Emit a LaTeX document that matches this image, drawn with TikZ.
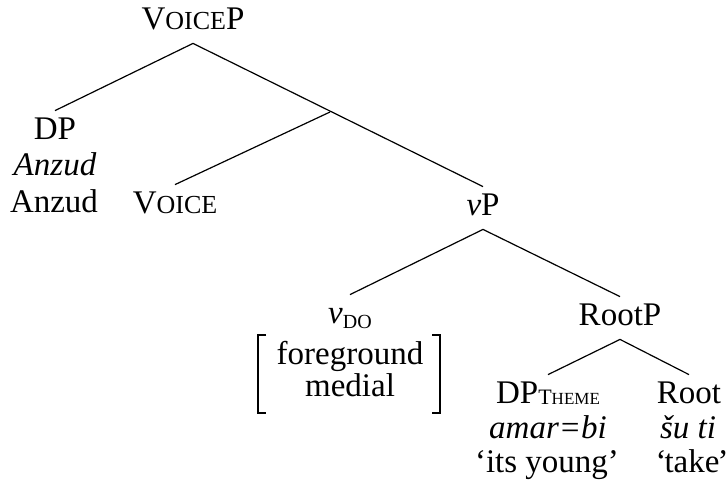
\documentclass[tikz,border=0pt]{standalone}
\usepackage{fontspec}
\setmainfont{Liberation Serif}
\newcommand\fakesc[1]{{\fontsize{13}{13}\selectfont #1}}
\begin{document}
\begin{tikzpicture}[x=0.5pt,y=-0.5pt,
  lbl/.style={inner sep=0pt,anchor=base,text height=14pt,text depth=7pt,font=\fontsize{16.5}{18}\selectfont},
  txt/.style={inner sep=0pt,anchor=base,font=\fontsize{16.5}{18}\selectfont},
  branch/.style={line width=0.6pt},
  brack/.style={line width=0.8pt}]
\useasboundingbox (0,0) rectangle (726,489);
% nodes
\node[lbl] (voicep) at (193,29) {V\fakesc{OICE}P};
\node[lbl] (dp) at (55,139) {DP};
\node[txt] (dpit) at (55,175) {\itshape Anzud};
\node[txt] (dpgl) at (54,212) {Anzud};
\coordinate (vbar) at (330,112);
\node[lbl] (voice) at (175,213) {V\fakesc{OICE}};
\node[lbl] (vp) at (483,215) {{\itshape v}P};
\node[lbl] (vdo) at (350,323) {{\itshape v}\raisebox{-2.5pt}{\fontsize{10}{10}\selectfont DO}};
\node[txt,text depth=0pt] (fg) at (350,364) {foreground};
\node[txt] (med) at (350,396) {medial};
\node[lbl] (rootp) at (620,325) {RootP};
\node[lbl] (dpth) at (548,403) {DP\raisebox{-0.5pt}{\fontsize{11}{11}\selectfont T\fontsize{8.5}{8.5}\selectfont HEME}};
\node[txt] (amar) at (548,438) {\itshape amar=bi};
\node[txt] (young) at (547,472) {`its young'};
\node[lbl] (root) at (689,403) {Root};
\node[txt] (suti) at (688,438) {\itshape šu ti};
\node[txt] (take) at (692,472) {`\kern-1pt take\kern-1pt'};
% branches
\draw[branch] (voicep.south) -- (dp.north);
\draw[branch] (voicep.south) -- (vp.north);
\draw[branch] (vbar) -- (voice.north);
\draw[branch] (vp.south) -- (vdo.north);
\draw[branch] (vp.south) -- (rootp.north);
\draw[branch] (rootp.south) -- (dpth.north);
\draw[branch] (rootp.south) -- (root.north);
% feature brackets
\coordinate (bl) at (258,335);
\coordinate (br) at (440,335);
\draw[brack] ([xshift=4pt]bl) -- (bl) -- ++(0,78) -- ++(8,0);
\draw[brack] ([xshift=-4pt]br) -- (br) -- ++(0,78) -- ++(-8,0);
\end{tikzpicture}
\end{document}
